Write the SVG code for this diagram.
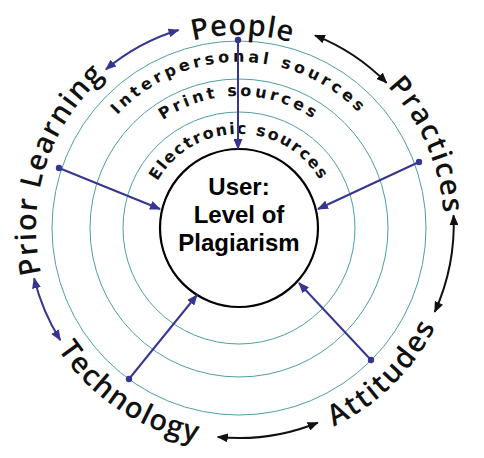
<svg xmlns="http://www.w3.org/2000/svg" width="484" height="458" viewBox="0 0 484 458">
<style>
.ring{fill:none;stroke:#4f9ea0;stroke-width:1}
.src{font-family:"DejaVu Sans",Verdana,sans-serif;font-weight:bold;font-size:16px;fill:#111}
.lbl{font-family:"Open Sans","DejaVu Sans",sans-serif;font-weight:600;font-size:29px;fill:#111}
.ctr{font-family:"Liberation Sans",Arial,sans-serif;font-weight:bold;font-size:24px;fill:#000;text-anchor:middle}
.blue{stroke:#363690;stroke-width:2;fill:none}
.blk{stroke:#111;stroke-width:2;fill:none}
</style>
<defs>
<marker id="ab" markerUnits="userSpaceOnUse" markerWidth="11" markerHeight="9" refX="10" refY="4.5" orient="auto-start-reverse"><path d="M0,0 L11,4.5 L0,9 z" fill="#363690"/></marker>
<marker id="ak" markerUnits="userSpaceOnUse" markerWidth="11" markerHeight="9" refX="10" refY="4.5" orient="auto-start-reverse"><path d="M0,0 L11,4.5 L0,9 z" fill="#111"/></marker>
<path id="pPeople" d="M73.6 128.6 A193 193 0 0 1 407.8 134.4"/>
<path id="pPractices" d="M261.5 24.2 A205 205 0 0 1 404.2 349.4"/>
<path id="pPrior" d="M88.4 364.1 A203 203 0 0 1 196.5 29.5"/>
<path id="pAttitudes" d="M180.6 440.1 A220 220 0 0 0 451.9 172.5"/>
<path id="pTech" d="M21.4 214.3 A218 218 0 0 0 335.9 423.3"/>
<path id="pInter" d="M75.5 199.2 A166 166 0 0 1 402.5 199.2"/>
<path id="pPrint" d="M109 205.1 A132 132 0 0 1 369 205.1"/>
<path id="pElec" d="M146.4 211.7 A94 94 0 0 1 331.6 211.7"/>
</defs>
<rect width="484" height="458" fill="#fff"/>
<g id="rings">
<circle class="ring" cx="239" cy="228" r="187"/>
<circle class="ring" cx="239" cy="228" r="149"/>
<circle class="ring" cx="239" cy="228" r="116"/>
</g>
<g id="sources">
<text class="src" letter-spacing="3.6"><textPath href="#pInter" startOffset="50%" text-anchor="middle">Interpersonal sources</textPath></text>
<text class="src" letter-spacing="3.3"><textPath href="#pPrint" startOffset="50%" text-anchor="middle">Print sources</textPath></text>
<text class="src" letter-spacing="1.8"><textPath href="#pElec" startOffset="50%" text-anchor="middle">Electronic sources</textPath></text>
</g>
<g id="user">
<circle cx="239" cy="228" r="79" fill="#fff" stroke="#000" stroke-width="2.2"/>
<text class="ctr" x="239" y="195">User:</text>
<text class="ctr" x="239" y="223">Level of</text>
<text class="ctr" x="239" y="251">Plagiarism</text>
</g>
<g id="people"><text class="lbl" letter-spacing="0.8"><textPath href="#pPeople" startOffset="50%" text-anchor="middle">People</textPath></text></g>
<g id="practices"><text class="lbl" letter-spacing="1.8"><textPath href="#pPractices" startOffset="50%" text-anchor="middle">Practices</textPath></text></g>
<g id="attitudes"><text class="lbl" letter-spacing="2"><textPath href="#pAttitudes" startOffset="50%" text-anchor="middle">Attitudes</textPath></text></g>
<g id="technology"><text class="lbl" letter-spacing="1.3"><textPath href="#pTech" startOffset="50%" text-anchor="middle">Technology</textPath></text></g>
<g id="prior-learning"><text class="lbl" letter-spacing="1.4"><textPath href="#pPrior" startOffset="50%" text-anchor="middle">Prior Learning</textPath></text></g>
<g id="connectors">
<g fill="#363690">
<circle cx="238" cy="40" r="3.2"/>
<circle cx="59" cy="168" r="3.2"/>
<circle cx="419" cy="162" r="3.2"/>
<circle cx="129" cy="379" r="3.2"/>
<circle cx="371" cy="360" r="3.2"/>
</g>
<line class="blue" x1="238" y1="40" x2="238" y2="149" marker-end="url(#ab)"/>
<line class="blue" x1="59" y1="168" x2="160" y2="209" marker-end="url(#ab)"/>
<line class="blue" x1="419" y1="162" x2="318" y2="209" marker-end="url(#ab)"/>
<line class="blue" x1="129" y1="379" x2="197" y2="295" marker-end="url(#ab)"/>
<line class="blue" x1="371" y1="360" x2="299" y2="283" marker-end="url(#ab)"/>
<path class="blue" d="M105.9 69.4 A207 207 0 0 1 178.5 30" marker-start="url(#ab)" marker-end="url(#ab)"/>
<path class="blk" d="M314.9 35.4 A207 207 0 0 1 386.6 82.9" marker-start="url(#ak)" marker-end="url(#ak)"/>
<path class="blk" d="M453.6 215.3 A214 214 0 0 1 434.8 311.9" marker-start="url(#ak)" marker-end="url(#ak)"/>
<path class="blk" d="M317.7 422.7 A210 210 0 0 1 217.8 436.9" marker-start="url(#ak)" marker-end="url(#ak)"/>
<path class="blue" d="M34.1 278.3 A211 211 0 0 0 60.3 340.1" marker-start="url(#ab)" marker-end="url(#ab)"/>
</g>
</svg>
